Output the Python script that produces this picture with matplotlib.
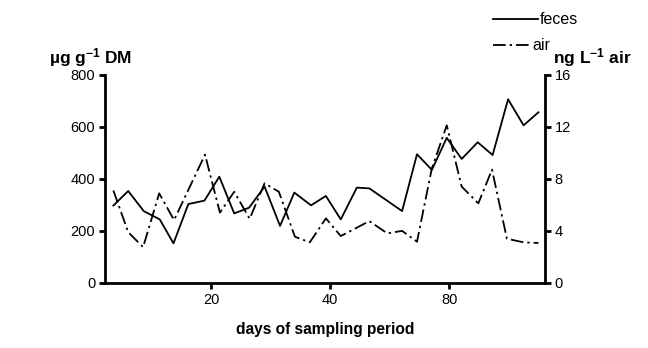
import matplotlib
matplotlib.use("Agg")
import matplotlib.pyplot as plt

plt.rcParams['font.family'] = ['Liberation Sans', 'DejaVu Sans']
plt.rcParams['mathtext.default'] = 'regular'

# feces concentration (µg g-1 DM), left axis
feces_days = [3.6, 6.1, 8.7, 11.4, 13.7, 16.2, 18.9, 21.4, 23.9, 26.4, 29.0, 31.6,
              34.0, 36.8, 39.3, 41.8, 44.5, 46.6, 52.1, 54.6, 57.1, 59.6, 62.1,
              64.8, 67.3, 69.9, 72.5, 75.0]
feces_vals = [297, 353, 276, 244, 152, 303, 316, 408, 267, 289, 370, 219,
              347, 298, 334, 244, 366, 363, 276, 494, 434, 557, 476,
              540, 491, 705, 605, 655]

# air concentration (ng L-1 air), right axis
air_days = [3.6, 6.1, 8.6, 11.3, 13.8, 19.0, 21.5, 23.9, 26.5, 29.0, 31.4,
            34.1, 36.6, 39.3, 41.8, 46.6, 49.6, 52.1, 54.6, 57.1, 59.6, 62.1,
            64.9, 67.2, 69.7, 72.5, 75.0]
air_vals = [7.1, 3.9, 2.75, 6.88, 4.83, 9.85, 5.4, 7.0, 4.93, 7.65, 7.0,
            3.55, 3.12, 4.96, 3.6, 4.75, 3.81, 4.0, 3.17, 8.8, 12.1, 7.4,
            6.11, 8.7, 3.4, 3.12, 3.07]

x_ticks = [20, 40, 60]
x_tick_labels = ['20', '40', '80']
left_ticks = [0, 200, 400, 600, 800]
right_ticks = [0, 4, 8, 12, 16]

fig = plt.figure(figsize=(6.48, 3.48), dpi=100)
ax = fig.add_axes([105/648, 1-283/348, 440/648, (283-74.5)/348])
ax2 = ax.twinx()

l1, = ax.plot(feces_days, feces_vals, color='black', lw=1.3, ls='-', label='feces')
l2, = ax2.plot(air_days, air_vals, color='black', lw=1.3, ls=(0, (7, 2.2, 1.3, 2.2)), label='air')

ax.set_xlim(2.2, 76.1)
ax.set_ylim(0, 800)
ax2.set_ylim(0, 16)
ax.set_xticks(x_ticks)
ax.set_xticklabels(x_tick_labels)
ax.set_yticks(left_ticks)
ax2.set_yticks(right_ticks)

for a in (ax, ax2):
    a.spines['top'].set_visible(False)
    for s in a.spines.values():
        s.set_linewidth(2)
    a.tick_params(direction='out', length=4, width=2, labelsize=10.5, pad=3)
ax.spines['right'].set_visible(False)
ax2.spines['left'].set_visible(False)
ax2.spines['bottom'].set_visible(False)

ax.set_xlabel('days of sampling period', fontsize=11.2, fontweight='bold', labelpad=11)

fig.text(49/648, 1-58/348, 'µg g$^{-1}$ DM', fontsize=12.5, fontweight='bold', va='center', ha='left')
fig.text(553/648, 1-58/348, 'ng L$^{-1}$ air', fontsize=12.5, fontweight='bold', va='center', ha='left')

leg1 = fig.legend(handles=[l1], loc='center left', bbox_to_anchor=(493/648, 1-20/348),
                  frameon=False, fontsize=11.5, handlelength=2.8, handletextpad=0.15,
                  borderaxespad=0, borderpad=0)
leg2 = fig.legend(handles=[l2], loc='center left', bbox_to_anchor=(493/648, 1-46/348),
                  frameon=False, fontsize=11.5, handlelength=2.3, handletextpad=0.15,
                  borderaxespad=0, borderpad=0)

fig.savefig('out.png', dpi=100)
